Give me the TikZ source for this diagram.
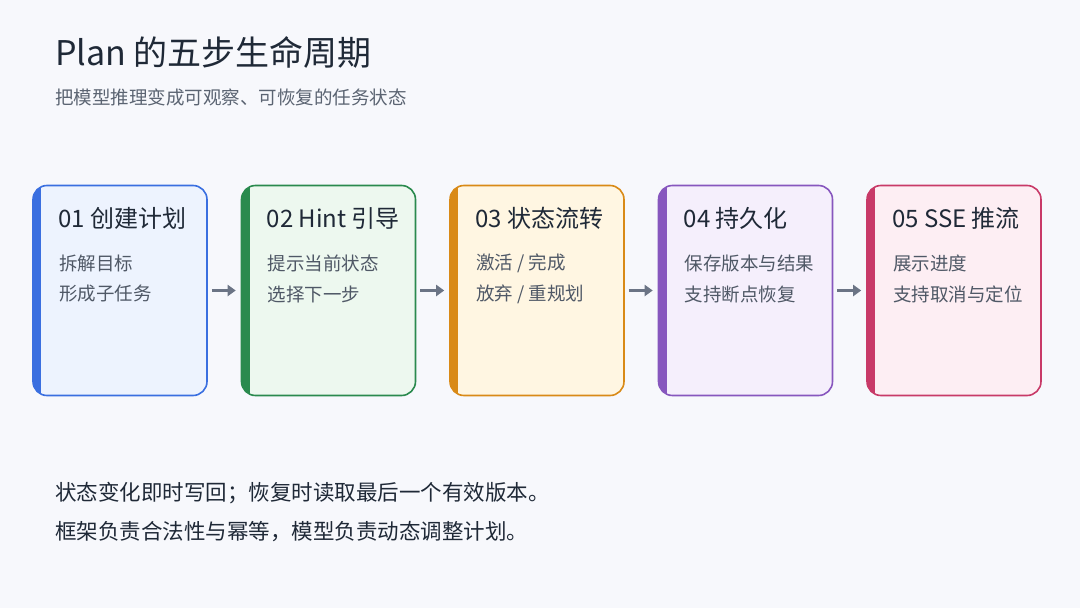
\documentclass[tikz,border=0pt]{standalone}
\usepackage{fontspec}
\setmainfont{Noto Sans CJK SC}
\usetikzlibrary{arrows.meta}
\definecolor{bg}{HTML}{F7F8FC}
\definecolor{ink}{HTML}{1F2937}
\definecolor{sub}{HTML}{5B6472}
\definecolor{arr}{HTML}{6B7485}
\definecolor{cA}{HTML}{3A6FE0}\definecolor{fA}{HTML}{EDF3FE}
\definecolor{cB}{HTML}{2A8A4E}\definecolor{fB}{HTML}{EDF8EF}
\definecolor{cC}{HTML}{D98A17}\definecolor{fC}{HTML}{FFF6E2}
\definecolor{cD}{HTML}{8757BE}\definecolor{fD}{HTML}{F5EFFC}
\definecolor{cE}{HTML}{C83A68}\definecolor{fE}{HTML}{FDEEF3}
\begin{document}
\begin{tikzpicture}[x=1pt,y=-1pt,
  card/.style={draw=#1,line width=1.6pt,rounded corners=14pt,minimum width=174pt,minimum height=210pt,inner sep=0pt},
  ttl/.style={anchor=west,font=\fontsize{24}{27}\selectfont,text=ink,inner sep=0pt},
  itm/.style={anchor=west,font=\fontsize{18.5}{21}\selectfont,text=sub!80!ink,inner sep=0pt},
  flow/.style={-{Triangle[length=8pt,width=11pt]},line width=3pt,draw=arr,shorten <=4pt,shorten >=5pt}]
\useasboundingbox (0,0) rectangle (1080,608);
\fill[bg] (0,0) rectangle (1080,608);
\node[anchor=west,inner sep=0pt,font=\fontsize{34}{37}\selectfont,text=ink] (title) at (55,52) {Plan 的五步生命周期};
\node[anchor=west,inner sep=0pt,font=\fontsize{18.5}{21}\selectfont,text=sub] (subt) at (55,97) {把模型推理变成可观察、可恢复的任务状态};
\foreach \i/\c/\x/\t/\a/\b in {
  1/A/33/{01 创建计划}/{拆解目标}/{形成子任务},
  2/B/241.5/{02 Hint 引导}/{提示当前状态}/{选择下一步},
  3/C/450/{03 状态流转}/{激活 / 完成}/{放弃 / 重规划},
  4/D/658.5/{04 持久化}/{保存版本与结果}/{支持断点恢复},
  5/E/867/{05 SSE 推流}/{展示进度}/{支持取消与定位}}{
  \node[card=c\c,fill=f\c] (k\i) at (\x+87,290.5) {};
  \begin{scope}
    \clip[rounded corners=14pt] (\x,185.5) rectangle (\x+174,395.5);
    \fill[c\c] (\x-2,180) rectangle (\x+8,400);
  \end{scope}
  \node[ttl] (t\i) at (\x+25,218) {\t};
  \node[itm] (a\i) at (\x+26,263) {\a};
  \node[itm] (b\i) at (\x+26,294) {\b};
}
\foreach \i/\j in {1/2,2/3,3/4,4/5} \draw[flow] (k\i) -- (k\j);
\node[anchor=west,inner sep=0pt,font=\fontsize{21.5}{24}\selectfont,text=ink] (n1) at (55,493) {状态变化即时写回；恢复时读取最后一个有效版本。};
\node[anchor=west,inner sep=0pt,font=\fontsize{21.5}{24}\selectfont,text=ink] (n2) at (55,532) {框架负责合法性与幂等，模型负责动态调整计划。};
\end{tikzpicture}
\end{document}
